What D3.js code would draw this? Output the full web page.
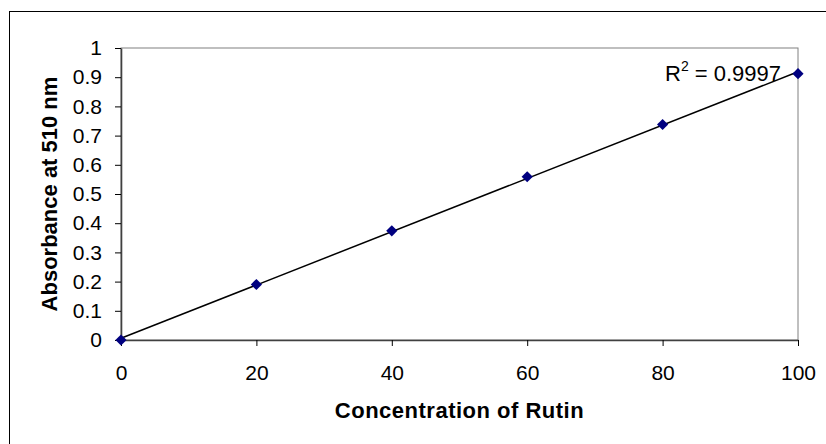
<!DOCTYPE html>
<meta charset="utf-8">
<style>
  body { margin: 0; background: #fff; }
  text { font-family: Arial, "Liberation Sans", sans-serif; }
</style>
<svg id="chart" width="826" height="444"></svg>

<script src="https://d3js.org/d3.v7.min.js"></script>
<script>

// data
var concentration = [0, 20, 40, 60, 80, 100]
var absorbance = [0, 0.19, 0.374, 0.559, 0.738, 0.912]
var xTicks = [0, 20, 40, 60, 80, 100]
var yTicks = [0, 0.1, 0.2, 0.3, 0.4, 0.5, 0.6, 0.7, 0.8, 0.9, 1]
var rSquaredLabel = "0.9997"

var svg = d3.select("#chart")

// outer chart frame (cut off at right and bottom like the original)
svg.append("rect")
    .attr("x", 9.5).attr("y", 11.5)
    .attr("width", 830).attr("height", 440)
    .attr("fill", "white")
    .attr("stroke", "black")
    .attr("stroke-width", 1)

var plot = { left: 121, top: 48, right: 798, bottom: 340 }

var x = d3.scaleLinear().domain([0, 100]).range([plot.left, plot.right])
var y = d3.scaleLinear().domain([0, 1]).range([plot.bottom, plot.top])

// plot area border (grey)
svg.append("rect")
    .attr("x", plot.left).attr("y", plot.top)
    .attr("width", plot.right - plot.left)
    .attr("height", plot.bottom - plot.top)
    .attr("fill", "none")
    .attr("stroke", "#808080")
    .attr("stroke-width", 1)

// axes
var xAxis = svg.append("g")
    .attr("transform", "translate(0," + plot.bottom + ")")
    .call(d3.axisBottom(x).tickValues(xTicks).tickSize(6).tickSizeOuter(0).tickPadding(19))

var yAxis = svg.append("g")
    .attr("transform", "translate(" + plot.left + ",0)")
    .call(d3.axisLeft(y).tickValues(yTicks).tickSize(6).tickSizeOuter(0).tickPadding(13)
      .tickFormat(function(d) { return d3.format("")(+d.toFixed(1)) }))

;[xAxis, yAxis].forEach(function(ax) {
  ax.select(".domain").attr("stroke", "#404040").attr("stroke-width", 1.6)
  ax.selectAll(".tick line").attr("stroke", "black")
  ax.selectAll("text")
    .attr("fill", "black")
    .style("font-size", "21px")
    .style("font-family", "Arial, 'Liberation Sans', sans-serif")
})

// linear trendline via least squares
var mx = d3.mean(concentration), my = d3.mean(absorbance)
var sxy = d3.sum(concentration, function(c, i) { return (c - mx) * (absorbance[i] - my) })
var sxx = d3.sum(concentration, function(c) { return (c - mx) * (c - mx) })
var slope = sxy / sxx
var intercept = my - slope * mx

svg.append("line")
    .attr("x1", x(0)).attr("y1", y(intercept))
    .attr("x2", x(100)).attr("y2", y(intercept + slope * 100))
    .attr("stroke", "black")
    .attr("stroke-width", 1.5)

// diamond markers
svg.selectAll(".pt")
  .data(concentration)
  .enter().append("path")
    .attr("class", "pt")
    .attr("d", d3.symbol().type(d3.symbolDiamond2).size(80))
    .attr("transform", function(d, i) { return "translate(" + x(d) + "," + y(absorbance[i]) + ")" })
    .attr("fill", "#000080")

// R squared label
var r2 = svg.append("text")
    .attr("x", 665).attr("y", 81)
    .style("font-size", "22px")
    .attr("fill", "black")
r2.append("tspan").text("R")
r2.append("tspan").attr("dy", -10).style("font-size", "14px").text("2")
r2.append("tspan").attr("dy", 10).text(" = " + rSquaredLabel)

// axis titles
svg.append("text")
    .attr("x", (plot.left + plot.right) / 2)
    .attr("y", 418)
    .attr("text-anchor", "middle")
    .style("font-size", "22px")
    .style("font-weight", "bold")
    .style("letter-spacing", "0.5px")
    .text("Concentration of Rutin")

svg.append("text")
    .attr("transform", "translate(57," + (plot.top + plot.bottom) / 2 + ") rotate(-90)")
    .attr("text-anchor", "middle")
    .style("font-size", "22px")
    .style("font-weight", "bold")
    .text("Absorbance at 510 nm")

</script>
